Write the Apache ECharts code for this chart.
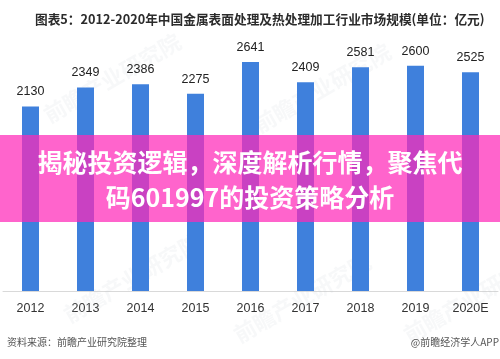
<!DOCTYPE html>
<html>
<head>
<meta charset="utf-8">
<script src="https://cdn.jsdelivr.net/npm/echarts@6/dist/echarts.min.js"></script>
<style>html,body{margin:0;padding:0;background:#fff}#c{width:500px;height:359px}</style>
</head>
<body>
<div id="c"></div>
<script>
var categories = ['2012','2013','2014','2015','2016','2017','2018','2019','2020E'];
var values = [2130, 2349, 2386, 2275, 2641, 2409, 2581, 2600, 2525];
var titleText = '图表5：2012-2020年中国金属表面处理及热处理加工行业市场规模(单位：亿元)';
var bannerLines = ['揭秘投资逻辑，深度解析行情，聚焦代', '码601997的投资策略分析'];
var sourceText = '资料来源：前瞻产业研究院整理';
var brandText = '@前瞻经济学人APP';
var watermarkText = '前瞻产业研究院';

var chart = echarts.init(document.getElementById('c'), null, {renderer: 'canvas'});
var wm = function (x, y) {
  return {
    type: 'text', left: x, top: y, rotation: Math.PI / 6, z: 1, silent: true,
    style: {text: watermarkText, fill: 'rgba(190,195,205,0.12)', font: 'bold 22px "Noto Sans CJK SC"'}
  };
};
chart.setOption({
  animation: false,
  backgroundColor: '#ffffff',
  title: {
    text: titleText, left: 30, top: 8,
    textStyle: {fontSize: 12.7, fontWeight: 'bold', color: '#2b2b2b', fontFamily: 'Noto Sans CJK SC'}
  },
  grid: {left: 3, right: 2, top: 31, bottom: 68},
  xAxis: {
    type: 'category', data: categories,
    axisLine: {lineStyle: {color: '#d9d9d9'}},
    axisTick: {show: false},
    axisLabel: {color: '#333', fontSize: 12.5, margin: 11, fontFamily: 'Liberation Sans'}
  },
  yAxis: {
    type: 'value', min: 0, max: 3000, show: false,
    splitLine: {show: false}
  },
  series: [{
    type: 'bar', data: values, barWidth: 17, z: 2,
    itemStyle: {color: '#3f80dc'},
    label: {show: true, position: 'top', distance: 8, color: '#222', fontSize: 12.5, fontFamily: 'Liberation Sans'}
  }],
  graphic: [
    wm(40, 30), wm(250, 40), wm(60, 230), wm(400, 250), wm(230, 250),
    {
      type: 'rect', left: 0, top: 135, z: 10, silent: true,
      shape: {width: 500, height: 87},
      style: {fill: 'rgba(255,40,185,0.72)'}
    },
    {
      type: 'text', z: 11, silent: true,
      style: {
        x: 250, y: 162, text: bannerLines[0], fill: '#ffffff',
        textAlign: 'center', textVerticalAlign: 'middle',
        font: 'bold 25px "Noto Sans CJK SC"'
      }
    },
    {
      type: 'text', z: 11, silent: true,
      style: {
        x: 250, y: 197, text: bannerLines[1], fill: '#ffffff',
        textAlign: 'center', textVerticalAlign: 'middle',
        font: 'bold 25px "Noto Sans CJK SC"'
      }
    },
    {
      type: 'text', left: 7, top: 337, z: 11,
      style: {text: sourceText, fill: '#555', font: '10px "Noto Sans CJK SC"'}
    },
    {
      type: 'text', right: 1, top: 337, z: 11,
      style: {text: brandText, fill: '#555', font: '10px "Noto Sans CJK SC"'}
    }
  ]
});
</script>
</body>
</html>
